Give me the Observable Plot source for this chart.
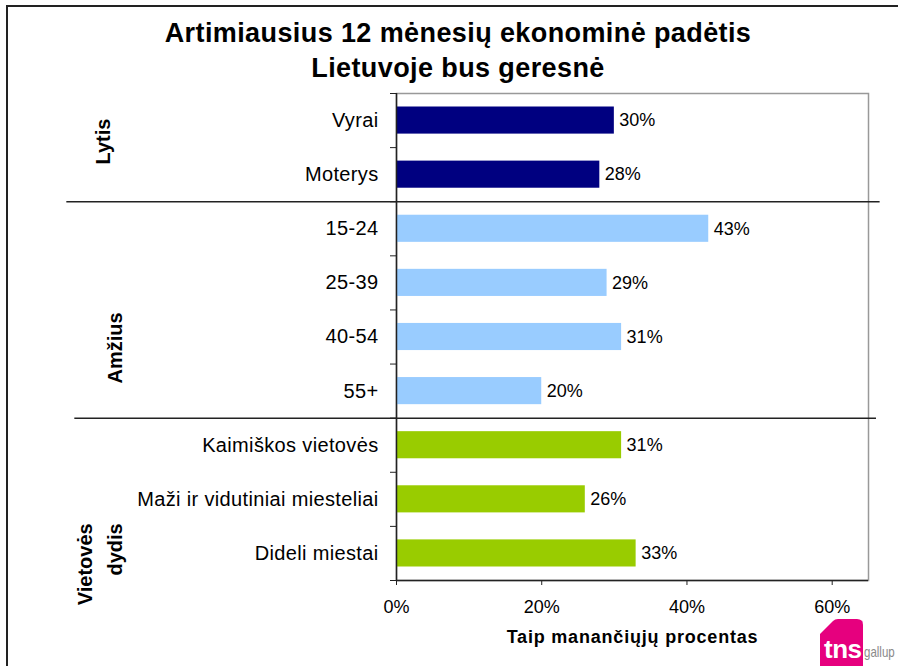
<!DOCTYPE html>
<html><head><meta charset="utf-8">
<script src="https://cdn.jsdelivr.net/npm/d3@7"></script>
<script src="https://cdn.jsdelivr.net/npm/@observablehq/plot@0.6"></script>
<style>
body{margin:0;background:#fff;font-family:Arial,"Liberation Sans",sans-serif;}
#wrap{position:relative;width:898px;height:666px;overflow:hidden;background:#fff;}
#border{position:absolute;left:6px;top:5px;width:1000px;height:1000px;border-left:2px solid #222;border-top:2px solid #222;}
#title{position:absolute;left:0;top:0;width:916px;text-align:center;font-weight:bold;font-size:27px;letter-spacing:0.4px;line-height:35px;padding-top:16px;color:#000;}
#chart{position:absolute;left:0;top:88px;}
#logo{position:absolute;left:820px;top:619px;}
</style>
</head><body>
<div id="wrap">
  <div id="border"></div>
  <div id="title"></div>
  <div id="chart"></div>
  <svg id="logo" width="76" height="47" viewBox="0 0 76 47">
    <path d="M0,15 L13,2 Q15,0 18,0 L37,0 Q43,0 43,6 L43,47 L0,47 Z" fill="#E6007E"/>
    <text x="38" y="5" font-size="5" fill="#E6007E">™</text>
    <text x="4" y="39" font-size="26" font-weight="bold" fill="#fff" letter-spacing="-0.5" font-family="Arial, 'Liberation Sans', sans-serif">tns</text>
    <text transform="translate(44,38) scale(1,1.35)" font-size="11.5" fill="#8a8a8a" font-family="Arial, 'Liberation Sans', sans-serif">gallup</text>
  </svg>
</div>
<script>
const titleLines = ["Artimiausius 12 mėnesių ekonominė padėtis", "Lietuvoje bus geresnė"];
const xTitle = "Taip manančiųjų procentas";
const categories = ["Vyrai", "Moterys", "15-24", "25-39", "40-54", "55+", "Kaimiškos vietovės", "Maži ir vidutiniai miesteliai", "Dideli miestai"];
const values = [30, 28, 43, 29, 31, 20, 31, 26, 33];
const groupOf = ["Lytis", "Lytis", "Amžius", "Amžius", "Amžius", "Amžius", "Vietovės dydis", "Vietovės dydis", "Vietovės dydis"];
const groupNames = ["Lytis", "Amžius", "Vietovės dydis"];
const groupLabels = ["Lytis", "Amžius", "Vietovės\ndydis"];
const groupColors = ["#000080", "#99CCFF", "#99CC00"];
const xTicks = [0, 20, 40, 60];

document.getElementById("title").innerHTML = titleLines.join("<br>");

const rows = categories.map((c, i) => ({cat: c, i, value: values[i], group: groupOf[i]}));
const groups = groupNames.map((g, k) => {
  const idx = rows.filter(r => r.group === g).map(r => r.i);
  return {name: g, label: groupLabels[k], start: d3.min(idx), end: d3.max(idx) + 1};
});
const boundaries = d3.range(0, categories.length + 1);
const separators = groups.slice(1).map(g => g.start);

const font = "Arial, 'Liberation Sans', sans-serif";
const gl = (k, opts) => Plot.text([groups[k]], {
  x: 0, y: d => (d.start + d.end) / 2, text: "label", rotate: -90,
  fontWeight: "bold", fontSize: 20, fill: "#000", ...opts
});

const plot = Plot.plot({
  width: 898, height: 578,
  marginLeft: 396, marginRight: 30, marginTop: 5, marginBottom: 86,
  style: {fontFamily: font, fontSize: "18px", color: "#000", background: "transparent", overflow: "visible"},
  x: {domain: [0, 65]},
  y: {domain: [0, categories.length], reverse: true},
  color: {domain: groupNames, range: groupColors},
  marks: [
    Plot.frame({stroke: "#999", strokeWidth: 1.5}),
    Plot.rect(rows, {x1: 0, x2: "value", y1: "i", y2: d => d.i + 1, insetTop: 13.5, insetBottom: 13.5, fill: "group"}),
    Plot.axisX({ticks: xTicks, tickSize: 5, tickPadding: 15, tickFormat: d => d + "%", fontSize: 18, stroke: "#222", label: null}),
    Plot.axisY({ticks: boundaries, tickSize: 6, tickFormat: () => "", stroke: "#222", label: null}),
    Plot.ruleX([0], {stroke: "#222", strokeWidth: 1.5, y1: 0, y2: categories.length}),
    Plot.ruleY([categories.length], {stroke: "#222", strokeWidth: 1.5}),
    Plot.ruleY(separators.slice(0, 1), {x1: -45.4, x2: 66.6, stroke: "#222", strokeWidth: 1.5}),
    Plot.ruleY(separators.slice(1, 2), {x1: -44.3, x2: 66.1, stroke: "#222", strokeWidth: 1.5}),
    Plot.text(rows, {x: 0, y: d => d.i + 0.5, text: "cat", textAnchor: "end", dx: -18, fontSize: 20, fill: "#000"}),
    Plot.text(rows, {x: "value", y: d => d.i + 0.5, text: d => d.value + "%", textAnchor: "start", dx: 5, fontSize: 18, fill: "#000"}),
    gl(0, {dx: -293, dy: -6}),
    gl(1, {dx: -281, dy: 38}),
    gl(2, {dx: -299, textAnchor: "end", dy: 24, lineHeight: 1.5}),
    Plot.text([xTitle], {frameAnchor: "bottom", text: d => d, dy: 62, fontWeight: "bold", fontSize: 18, fill: "#000"})
  ]
});
document.getElementById("chart").appendChild(plot);
plot.querySelectorAll("text").forEach(t => {
  if (t.textContent === xTitle) t.style.letterSpacing = "0.8px";
  if (categories.includes(t.textContent)) t.style.letterSpacing = "0.35px";
});
</script>
</body></html>
